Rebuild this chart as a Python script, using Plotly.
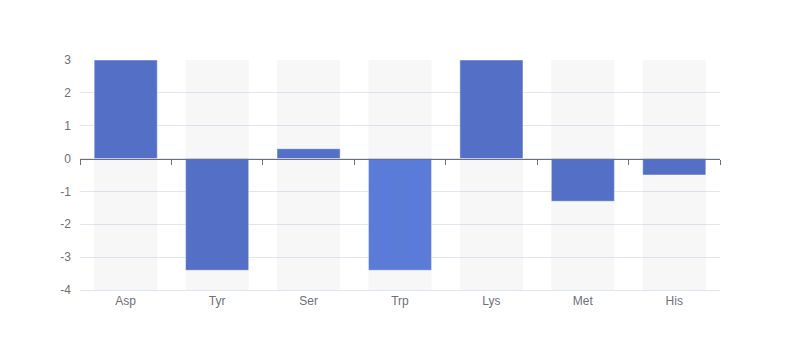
import plotly.graph_objects as go

categories = ["Asp", "Tyr", "Ser", "Trp", "Lys", "Met", "His"]
values = [3, -3.4, 0.3, -3.4, 3, -1.3, -0.5]
y_min, y_max = -4, 3
y_ticks = [-4, -3, -2, -1, 0, 1, 2, 3]
y_tick_labels = ["-4", "-3", "-2", "-1", "0", "1", "2", "3"]

bar_colors = ["#5470c6", "#5470c6", "#5470c6", "#5b7bd8", "#5470c6", "#5470c6", "#5470c6"]

fig = go.Figure()
# background bars spanning full axis range
fig.add_trace(go.Bar(
    x=categories, y=[y_max - y_min] * len(categories), base=[y_min] * len(categories),
    marker=dict(color="rgba(180,180,180,0.1)", line=dict(width=0)),
    width=0.69, hoverinfo="skip", showlegend=False,
))
fig.add_trace(go.Bar(
    x=categories, y=values,
    marker=dict(color=bar_colors, line=dict(color="rgba(255,255,255,0.45)", width=1)),
    width=0.69, showlegend=False,
))
# invisible trace on second x axis for zero-axis ticks
fig.add_trace(go.Scatter(x=categories, y=[0] * len(categories), xaxis="x2",
                         mode="markers", marker=dict(opacity=0), hoverinfo="skip",
                         showlegend=False))

fig.update_layout(
    width=800, height=360,
    margin=dict(l=72, r=88, t=52, b=78),
    paper_bgcolor="white", plot_bgcolor="white",
    barmode="overlay",
    font=dict(family="Liberation Sans, Arial, sans-serif", size=12, color="#6e7079"),
    xaxis=dict(
        type="category", showgrid=False, showline=True, linecolor="#e0e6f1",
        ticks="", tickfont=dict(size=12, color="#6e7079"), fixedrange=True,
        range=[-0.5, len(categories) - 0.5],
    ),
    xaxis2=dict(
        type="category", overlaying="x", anchor="free",
        position=(0 - y_min) / (y_max - y_min), side="bottom",
        showline=True, linecolor="#6e7079", linewidth=1,
        ticks="outside", tickson="boundaries", ticklen=5, tickcolor="#6e7079",
        showticklabels=False, showgrid=False, layer="above traces",
        range=[-0.5, len(categories) - 0.5],
    ),
    yaxis=dict(
        range=[y_min, y_max], tickvals=y_ticks, ticktext=y_tick_labels,
        showgrid=True, gridcolor="#e0e6f1",
        zeroline=False, showline=False, ticks="", ticklabelstandoff=8,
        tickfont=dict(size=12, color="#6e7079"),
    ),
)

fig.write_html("out.html")
